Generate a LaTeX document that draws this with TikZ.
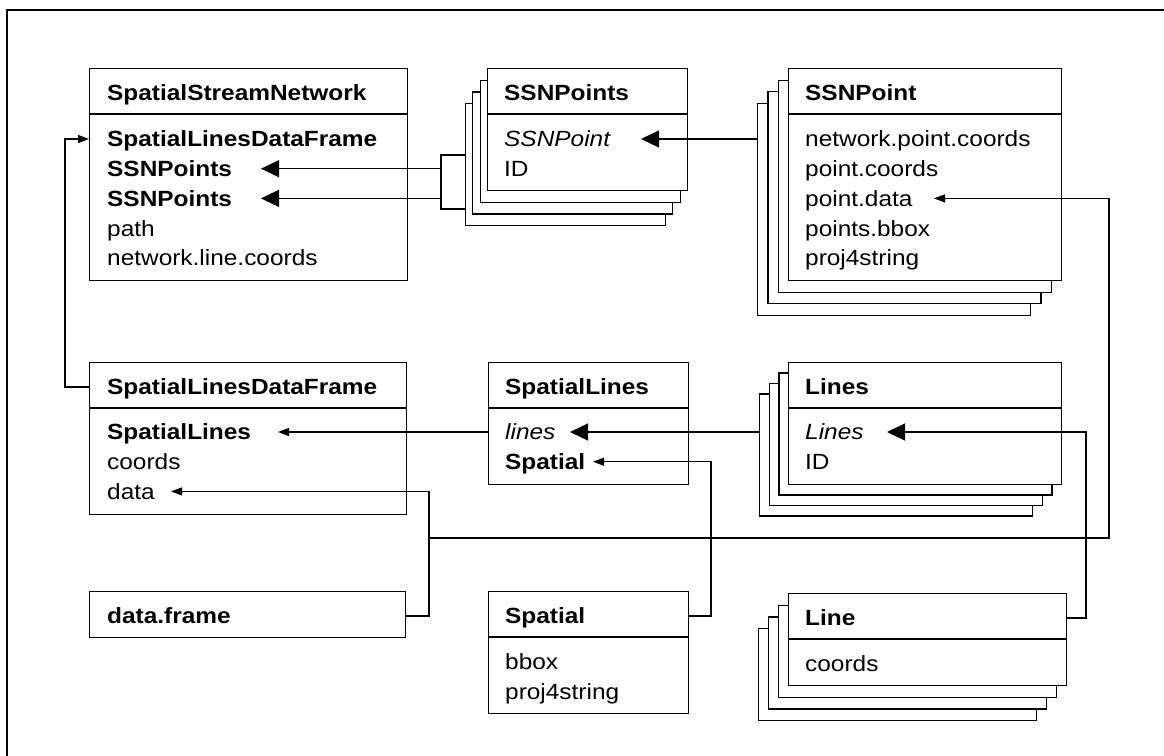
\documentclass[tikz,border=0pt]{standalone}
\usepackage{fontspec}
\setmainfont{Liberation Sans}[FakeStretch=1.11]
\usetikzlibrary{arrows.meta}
\begin{document}
\begin{tikzpicture}[x=1pt,y=-1pt,line cap=butt,line join=miter,
		box/.style={draw,line width=1.3pt,fill=white,inner sep=0pt,anchor=north west},
		txt/.style={anchor=west,inner sep=0pt,text height=15.8pt,text depth=0pt,font=\fontsize{22}{27}\selectfont},
		bf/.style={txt,font=\fontsize{22}{27}\selectfont\bfseries},
		it/.style={txt,font=\fontsize{22}{27}\selectfont\itshape},
		sep/.style={line width=1.3pt},
		big/.style={-{Triangle[length=18pt,width=17pt]},line width=1.1pt},
		sml/.style={-{Triangle[length=11pt,width=8pt]},line width=1.1pt},
		wire/.style={line width=1.1pt}]
	\useasboundingbox (0,0) rectangle (1164,755);
	\draw[sep] (1170,10) -- (7,10) -- (7,760);
	% SpatialStreamNetwork
	\node[box,minimum width=318pt,minimum height=212pt] (ssn) at (89,68) {};
	\draw[sep] ([yshift=-46pt]ssn.north west) -- ([yshift=-46pt]ssn.north east);
	\node[bf] (ssnT) at (107,93) {SpatialStreamNetwork};
	\node[bf] (ssn1) at (107,139) {SpatialLinesDataFrame};
	\node[bf] (ssn2) at (107,168.7) {SSNPoints};
	\node[bf] (ssn3) at (107,198.4) {SSNPoints};
	\node[txt] (ssn4) at (107,228.1) {path};
	\node[txt] (ssn5) at (107,257.8) {network.line.coords};
	% SSNPoints
	\foreach \i in {3,2,1}
		\node[box,minimum width=200pt,minimum height=122pt] (ptsb\i) at ({487-7.5*\i},{68+11.7*\i}) {};
	\node[box,minimum width=200pt,minimum height=122pt] (pts) at (487,68) {};
	\draw[sep] ([yshift=-46pt]pts.north west) -- ([yshift=-46pt]pts.north east);
	\node[bf] (ptsT) at (504,93) {SSNPoints};
	\node[it] (pts1) at (504,139) {SSNPoint};
	\node[txt] (pts2) at (504,168.7) {ID};
	% SSNPoint
	\foreach \i in {3,2,1}
		\node[box,minimum width=273pt,minimum height=212pt] (ptb\i) at ({788-10.3*\i},{68+11.5*\i}) {};
	\node[box,minimum width=273pt,minimum height=212pt] (pt) at (788,68) {};
	\draw[sep] ([yshift=-46pt]pt.north west) -- ([yshift=-46pt]pt.north east);
	\node[bf] (ptT) at (805,93) {SSNPoint};
	\node[txt] (pt1) at (805,139) {network.point.coords};
	\node[txt] (pt2) at (805,168.7) {point.coords};
	\node[txt] (pt3) at (805,198.4) {point.data};
	\node[txt] (pt4) at (805,228.1) {points.bbox};
	\node[txt] (pt5) at (805,257.8) {proj4string};
	% SpatialLinesDataFrame
	\node[box,minimum width=317pt,minimum height=152pt] (sldf) at (89,362) {};
	\draw[sep] ([yshift=-46pt]sldf.north west) -- ([yshift=-46pt]sldf.north east);
	\node[bf] (sldfT) at (107,387) {SpatialLinesDataFrame};
	\node[bf] (sldf1) at (107,432) {SpatialLines};
	\node[txt] (sldf2) at (107,461.7) {coords};
	\node[txt] (sldf3) at (107,491.4) {data};
	% SpatialLines
	\node[box,minimum width=200pt,minimum height=122pt] (sl) at (488,362) {};
	\draw[sep] ([yshift=-46pt]sl.north west) -- ([yshift=-46pt]sl.north east);
	\node[bf] (slT) at (505,387) {SpatialLines};
	\node[it] (sl1) at (505,432) {lines};
	\node[bf] (sl2) at (505,461.7) {Spatial};
	% Lines
	\foreach \i in {3,2,1}
		\node[box,minimum width=273pt,minimum height=122pt] (lnsb\i) at ({788-9.7*\i},{362+10.4*\i}) {};
	\node[box,minimum width=273pt,minimum height=122pt] (lns) at (788,362) {};
	\draw[sep] ([yshift=-46pt]lns.north west) -- ([yshift=-46pt]lns.north east);
	\node[bf] (lnsT) at (805,387) {Lines};
	\node[it] (lns1) at (805,432) {Lines};
	\node[txt] (lns2) at (805,461.7) {ID};
	% data.frame
	\node[box,minimum width=316pt,minimum height=46pt] (df) at (89,591) {};
	\node[bf] (dfT) at (107,616) {data.frame};
	% Spatial
	\node[box,minimum width=200pt,minimum height=122pt] (sp) at (488,591) {};
	\draw[sep] ([yshift=-46pt]sp.north west) -- ([yshift=-46pt]sp.north east);
	\node[bf] (spT) at (505,616) {Spatial};
	\node[txt] (sp1) at (505,662) {bbox};
	\node[txt] (sp2) at (505,691.7) {proj4string};
	% Line
	\foreach \i in {3,2,1}
		\node[box,minimum width=278pt,minimum height=92pt] (lnb\i) at ({788-10.1*\i},{593+11.7*\i}) {};
	\node[box,minimum width=278pt,minimum height=92pt] (ln) at (788,593) {};
	\draw[sep] ([yshift=-46pt]ln.north west) -- ([yshift=-46pt]ln.north east);
	\node[bf] (lnT) at (805,618) {Line};
	\node[txt] (ln1) at (805,663.5) {coords};
	% connectors
	\coordinate (tip-ssn2) at (261,168.7);
	\coordinate (tip-ssn3) at (261,198.4);
	\coordinate (tip-pts1) at (641,139);
	\coordinate (tip-pt3) at (934,198.4);
	\coordinate (tip-sldf1) at (278,432);
	\coordinate (tip-sldf3) at (171,491.4);
	\coordinate (tip-sl1) at (570,432);
	\coordinate (tip-sl2) at (593,461.7);
	\coordinate (tip-lns1) at (887,432);
	\coordinate (brk1) at (441,155);
	\coordinate (brk2) at (441,209);
	\coordinate (fb) at (65,0);
	\coordinate (jn) at (429,538);
	\coordinate (pd) at (1109,538);
	\coordinate (spr) at (711,0);
	\coordinate (lnr) at (1086,0);
	\draw[sml] (sldfT -| sldf.west) -| (fb |- ssn1) -- (ssn1 -| ssn.west);
	\draw[wire] (ptsb3.west |- brk1) -- (brk1) -- (brk2) -- (ptsb3.west |- brk2);
	\draw[big] (brk1 |- ssn2) -- (tip-ssn2);
	\draw[big] (brk1 |- ssn3) -- (tip-ssn3);
	\draw[big] (ptb3.west |- pts1) -- (tip-pts1);
	\draw[sml] (dfT -| df.east) -| (jn |- sldf3) -- (tip-sldf3);
	\draw[sml] (jn) -- (pd) -- (pd |- pt3) -- (tip-pt3);
	\draw[sml] (sl.west |- sl1) -- (tip-sldf1);
	\draw[big] (lnsb3.west |- lns1) -- (tip-sl1);
	\draw[sml] (spT -| sp.east) -| (spr |- sl2) -- (tip-sl2);
	\draw[big] (lnT -| ln.east) -| (lnr |- lns1) -- (tip-lns1);
\end{tikzpicture}
\end{document}
